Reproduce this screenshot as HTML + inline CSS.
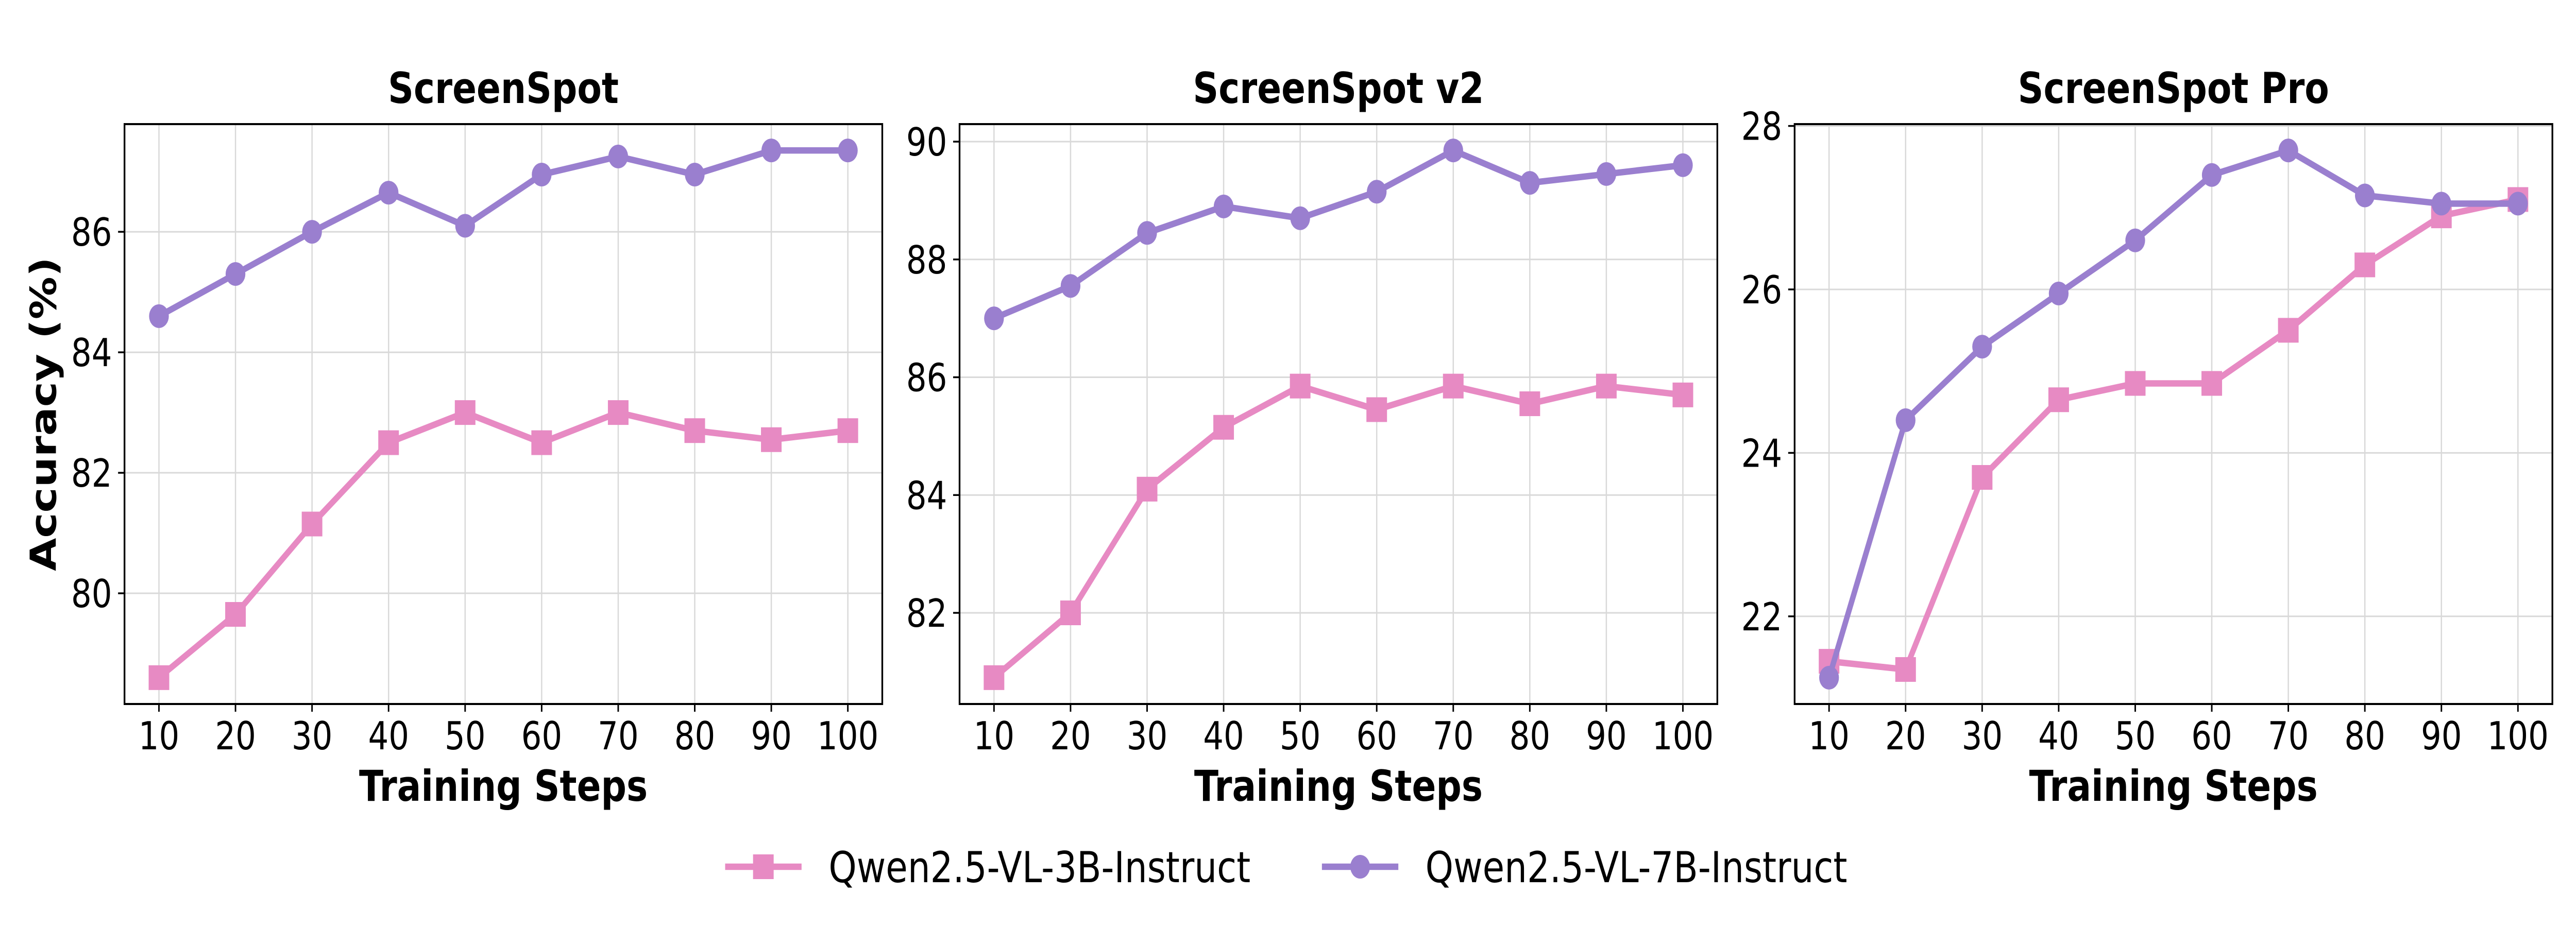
<!DOCTYPE html>
<html><head><meta charset="utf-8"><style>
html,body{margin:0;padding:0;background:#fff;width:100%;height:100%;overflow:hidden;}
svg{display:block;width:100vw;height:100vh;font-family:"DejaVu Sans","Liberation Sans",sans-serif;}
</style></head><body>
<svg id="chart" viewBox="0 0 6000 1800" preserveAspectRatio="none" xmlns="http://www.w3.org/2000/svg"></svg>
<script>
const steps = [10,20,30,40,50,60,70,80,90,100];
const titles = ["ScreenSpot","ScreenSpot v2","ScreenSpot Pro"];
const ss7b = [84.6,85.3,86.0,86.65,86.1,86.95,87.25,86.95,87.35,87.35];
const ss3b = [78.6,79.65,81.15,82.5,83.0,82.5,83.0,82.7,82.55,82.7];
const v27b = [87.0,87.55,88.45,88.9,88.7,89.15,89.85,89.3,89.45,89.6];
const v23b = [80.9,82.0,84.1,85.15,85.85,85.45,85.85,85.55,85.85,85.7];
const pro7b = [21.25,24.4,25.3,25.95,26.6,27.4,27.7,27.15,27.05,27.05];
const pro3b = [21.45,21.35,23.7,24.65,24.85,24.85,25.5,26.3,26.9,27.1];
const yticks1 = [80,82,84,86];
const yticks2 = [82,84,86,88,90];
const yticks3 = [22,24,26,28];
const seriesNames = ["Qwen2.5-VL-3B-Instruct","Qwen2.5-VL-7B-Instruct"];

const NS="http://www.w3.org/2000/svg";
const svg=document.getElementById('chart');
const PINK="#e78ac3", PURP="#9a7fcf";
function mk(tag,attrs,parent){const e=document.createElementNS(NS,tag);for(const k in attrs)e.setAttribute(k,attrs[k]);(parent||svg).appendChild(e);return e;}

const panels=[
 {left:290,title:titles[0],s3:ss3b,s7:ss7b,ticks:yticks1},
 {left:2235,title:titles[1],s3:v23b,s7:v27b,ticks:yticks2},
 {left:4180,title:titles[2],s3:pro3b,s7:pro7b,ticks:yticks3}
];
const W=1765, TOP=241, BOT=1367;

panels.forEach((p,pi)=>{
  const g=mk('g',{});
  
  
  const all=p.s3.concat(p.s7);
  const mn=Math.min(...all), mx=Math.max(...all), m=(mx-mn)*0.05;
  const y0=mn-m, y1=mx+m;
  const xmin=Math.min(...steps), xmax=Math.max(...steps), xm=(xmax-xmin)*0.05;
  const X=v=>p.left+(v-(xmin-xm))/((xmax+xm)-(xmin-xm))*W;
  const Y=v=>BOT-(v-y0)/(y1-y0)*(BOT-TOP);
  steps.forEach(s=>{const l=mk('line',{x1:X(s),x2:X(s),y1:TOP,y2:BOT,stroke:'#d9d9d9','stroke-width':3},g);
    });
  p.ticks.forEach(t=>{const l=mk('line',{x1:p.left,x2:p.left+W,y1:Y(t),y2:Y(t),stroke:'#d9d9d9','stroke-width':3},g);
    });
  [[p.s3,PINK,'sq',seriesNames[0]],[p.s7,PURP,'ci',seriesNames[1]]].forEach(([vals,col,mkType,name])=>{
    const sg=mk('g',{},g);
    
    
    const pl=mk('polyline',{points:vals.map((v,i)=>X(steps[i])+','+Y(v)).join(' '),fill:'none',stroke:col,'stroke-width':12.5,'stroke-linejoin':'round','stroke-linecap':'round'},sg);
    
    vals.forEach((v,i)=>{
      let e;
      if(mkType==='sq') e=mk('rect',{x:X(steps[i])-24,y:Y(v)-24,width:48,height:48,fill:col},sg);
      else e=mk('circle',{cx:X(steps[i]),cy:Y(v),r:23,fill:col},sg);
      
    });
  });
  const fr=mk('rect',{x:p.left,y:TOP,width:W,height:BOT-TOP,fill:'none',stroke:'#000','stroke-width':4},g);
  
  steps.forEach(s=>{
    const tl=mk('line',{x1:X(s),x2:X(s),y1:BOT,y2:BOT+15,stroke:'#000','stroke-width':3.5},g);
    
    const t=mk('text',{x:X(s),y:1455,'text-anchor':'middle','font-size':75,fill:'#000'},g);
    t.textContent=s;
  });
  p.ticks.forEach(v=>{
    const tl=mk('line',{x1:p.left-15,x2:p.left,y1:Y(v),y2:Y(v),stroke:'#000','stroke-width':3.5},g);
    
    const t=mk('text',{x:p.left-29,y:Y(v)+27,'text-anchor':'end','font-size':75,fill:'#000'},g);
    t.textContent=v;
  });
  const tt=mk('text',{x:p.left+W/2,y:200,'text-anchor':'middle','font-size':83,'font-weight':'bold',fill:'#000'},g);
  tt.textContent=p.title;
  const xl=mk('text',{x:p.left+W/2,y:1555,'text-anchor':'middle','font-size':83,'font-weight':'bold',fill:'#000'},g);
  xl.textContent='Training Steps';
});
const yl=mk('text',{x:0,y:0,transform:'translate(130,804) rotate(-90)','text-anchor':'middle','font-size':83,'font-weight':'bold',fill:'#000'});
yl.textContent='Accuracy (%)';



const lg=mk('g',{});


[[1689,PINK,'sq',seriesNames[0]],[3079,PURP,'ci',seriesNames[1]]].forEach(([x,col,t,name])=>{
  const eg=mk('g',{},lg);
  
  
  mk('line',{x1:x,x2:x+178,y1:1683,y2:1683,stroke:col,'stroke-width':12.5},eg);
  if(t==='sq') mk('rect',{x:x+89-24,y:1683-24,width:48,height:48,fill:col},eg);
  else mk('circle',{cx:x+89,cy:1683,r:23,fill:col},eg);
  const tx=mk('text',{x:x+241,y:1713,'font-size':83,fill:'#000'},eg);
  tx.textContent=name;
});
</script>
</body></html>
